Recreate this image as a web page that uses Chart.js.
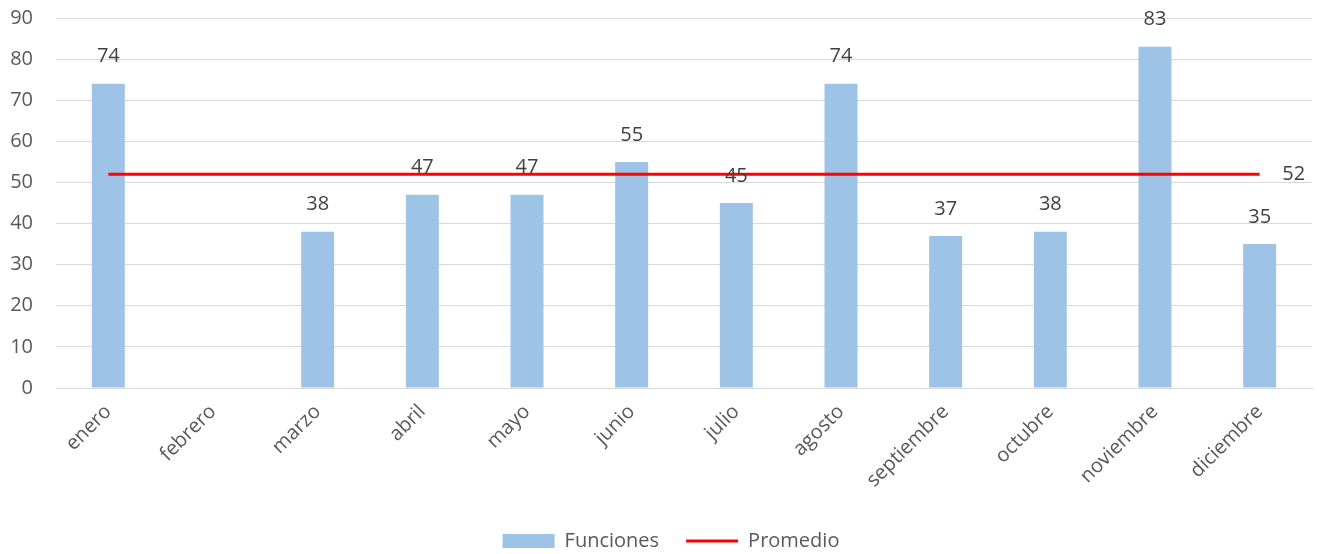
<!DOCTYPE html>
<html>
<head>
<meta charset="utf-8">
<script src="https://cdn.jsdelivr.net/npm/chart.js@4.4.1/dist/chart.umd.min.js"></script>
<style>
html,body{margin:0;padding:0;background:#fff;}
#wrap{width:1317px;height:554px;position:relative;}
</style>
</head>
<body>
<div id="wrap"><canvas id="c"></canvas></div>
<script>
const categories = ['enero','febrero','marzo','abril','mayo','junio','julio','agosto','septiembre','octubre','noviembre','diciembre'];
const funciones = [74, null, 38, 47, 47, 55, 45, 74, 37, 38, 83, 35];
const promedio = [52, 52, 52, 52, 52, 52, 52, 52, 52, 52, 52, 52];
const yTicks = [0, 10, 20, 30, 40, 50, 60, 70, 80, 90];

const FONT = '"Open Sans", "Liberation Sans", sans-serif';
const TXT = '#595959';

const labelPlugin = {
  id: 'labels',
  afterInit(chart) {
    const lg = chart.legend;
    if (lg && !lg._patched) {
      const orig = lg.fit.bind(lg);
      lg.fit = function () { orig(); this.height = 50; };
      lg._patched = true;
    }
  },
  afterLayout(chart) {
    const lg = chart.legend;
    if (lg) { lg.left += 15; lg.right += 15; }
  },
  afterDatasetsDraw(chart) {
    const ctx = chart.ctx;
    ctx.save();
    ctx.font = '20px ' + FONT;
    ctx.fillStyle = '#404040';
    ctx.textAlign = 'center';
    ctx.textBaseline = 'middle';
    const barMeta = chart.getDatasetMeta(0);
    barMeta.data.forEach((el, i) => {
      const v = funciones[i];
      if (v === null || v === undefined) return;
      ctx.fillText(String(v), el.x, el.y - 27);
    });
    const lineMeta = chart.getDatasetMeta(1);
    const last = lineMeta.data[lineMeta.data.length - 1];
    ctx.fillText(String(promedio[promedio.length - 1]), last.x + 34, last.y);
    ctx.restore();
  }
};

new Chart(document.getElementById('c'), {
  data: {
    labels: categories,
    datasets: [
      {
        type: 'bar',
        label: 'Funciones',
        data: funciones,
        backgroundColor: '#9DC3E6',
        borderWidth: 0,
        categoryPercentage: 1,
        barPercentage: 0.315,
        pointStyle: 'rect',
        order: 2
      },
      {
        type: 'line',
        label: 'Promedio',
        data: promedio,
        borderColor: '#FF0000',
        backgroundColor: '#FF0000',
        borderWidth: 3,
        pointRadius: 0,
        pointHoverRadius: 0,
        pointStyle: 'line',
        fill: false,
        order: 1
      }
    ]
  },
  options: {
    responsive: true,
    maintainAspectRatio: false,
    animation: false,
    events: [],
    layout: { padding: { top: 18, right: 5, left: 0, bottom: 0 } },
    plugins: {
      legend: {
        position: 'bottom',
        labels: {
          usePointStyle: true,
          pointStyleWidth: 52,
          boxHeight: 14,
          padding: 27,
          color: TXT,
          font: { family: FONT, size: 20 },
          sort: (a, b) => a.datasetIndex - b.datasetIndex
        }
      },
      tooltip: { enabled: false }
    },
    scales: {
      x: {
        grid: { display: false },
        border: { display: true, color: '#d9d9d9', width: 1 },
        ticks: {
          color: TXT,
          font: { family: FONT, size: 20 },
          maxRotation: 45,
          minRotation: 45,
          padding: 4,
          autoSkip: false
        },
        afterFit(scale) { scale.height = 116; }
      },
      y: {
        min: 0,
        max: 90,
        afterBuildTicks(scale) { scale.ticks = yTicks.map(v => ({ value: v })); },
        grid: { color: '#d9d9d9', lineWidth: 1, drawTicks: false },
        border: { display: false },
        ticks: {
          color: TXT,
          font: { family: FONT, size: 20 },
          padding: 23
        },
        afterFit(scale) { scale.width = 56; scale.paddingTop = 0; scale.paddingBottom = 0; }
      }
    }
  },
  plugins: [labelPlugin]
});
</script>
</body>
</html>
